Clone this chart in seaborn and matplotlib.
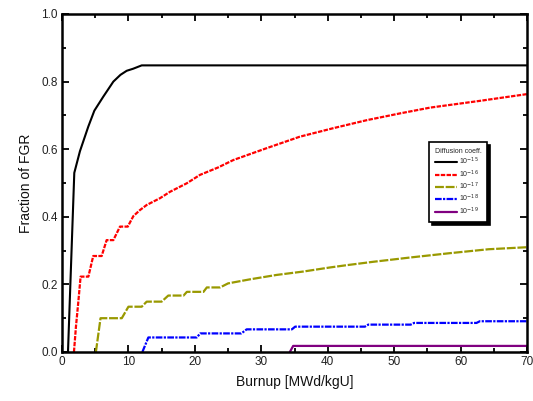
import matplotlib
matplotlib.use("Agg")
import matplotlib.pyplot as plt
import seaborn as sns
import pandas as pd
from matplotlib.ticker import MultipleLocator

# ---- data ----
x_d15 = [0.9, 1.85, 2.7, 3.96, 4.87, 6.2, 7.73, 8.8, 9.74, 10.7, 12.0, 70.0]
y_d15 = [0.0, 0.53, 0.594, 0.667, 0.714, 0.755, 0.80, 0.82, 0.832, 0.838, 0.848, 0.848]

x_d16 = [1.8, 2.1, 2.46, 2.8, 3.97, 4.7, 5.97, 6.72, 7.73, 8.73, 9.9, 10.74, 11.74,
         12.75, 14.75, 16.26, 18.77, 20.77, 23.5, 25.8, 30.8, 35.8, 40.8, 45.9,
         50.9, 55.4, 62.9, 70.0]
y_d16 = [0.0, 0.075, 0.149, 0.223, 0.223, 0.284, 0.284, 0.331, 0.331, 0.371, 0.371,
         0.402, 0.42, 0.435, 0.455, 0.474, 0.499, 0.524, 0.546, 0.568, 0.603, 0.637,
         0.662, 0.686, 0.706, 0.723, 0.743, 0.763]

x_d17 = [5.1, 5.8, 9.0, 10.0, 12.0, 12.75, 15.0, 16.0, 18.3, 18.8, 21.3, 21.8, 23.8,
         25.0, 28.3, 32.3, 36.3, 40.3, 42.9, 46.9, 52.6, 58.2, 64.2, 70.0]
y_d17 = [0.0, 0.10, 0.10, 0.134, 0.134, 0.149, 0.149, 0.167, 0.167, 0.178, 0.178,
         0.191, 0.191, 0.203, 0.215, 0.228, 0.238, 0.25, 0.257, 0.267, 0.28, 0.292,
         0.304, 0.31]

x_d18 = [12.1, 13.0, 20.3, 20.8, 27.0, 27.8, 34.6, 35.1, 45.6, 46.1, 52.5, 53.0,
         62.4, 62.9, 70.0]
y_d18 = [0.0, 0.043, 0.043, 0.055, 0.055, 0.067, 0.067, 0.075, 0.075, 0.081, 0.081,
         0.086, 0.086, 0.091, 0.091]

x_d19 = [34.3, 34.8, 70.0]
y_d19 = [0.0, 0.018, 0.018]

labels = ["10$^{-15}$", "10$^{-16}$", "10$^{-17}$", "10$^{-18}$", "10$^{-19}$"]
colors = ["#000000", "#ff0000", "#999900", "#0000ff", "#800080"]
x_ticks = [0, 10, 20, 30, 40, 50, 60, 70]
y_ticks = [0.0, 0.2, 0.4, 0.6, 0.8, 1.0]

sns.set_theme(style="ticks")
plt.rcParams["font.family"] = ["Liberation Sans", "DejaVu Sans"]

fig = plt.figure(figsize=(5.33, 4.01), dpi=100)
ax = fig.add_axes([62 / 533, 49 / 401, 465 / 533, 338 / 401])

series = [(x_d15, y_d15), (x_d16, y_d16), (x_d17, y_d17), (x_d18, y_d18), (x_d19, y_d19)]
dashes = [None, (2, 0.6), (4, 0.8), (3, 0.6, 1, 0.6), None]
widths = [1.5, 1.6, 1.6, 1.6, 1.6]

for (xs, ys), lab, col, ds, lw in zip(series, labels, colors, dashes, widths):
    df = pd.DataFrame({"burnup": xs, "fgr": ys})
    sns.lineplot(data=df, x="burnup", y="fgr", ax=ax, color=col, lw=lw,
                 sort=False, estimator=None, label=lab)
    if ds is not None:
        ax.lines[-1].set_dashes(ds)

ax.set_xlim(0, 70)
ax.set_ylim(0, 1.0)
ax.set_xticks(x_ticks)
ax.set_yticks(y_ticks)
ax.set_yticklabels([f"{v:.1f}" for v in y_ticks])
ax.xaxis.set_minor_locator(MultipleLocator(5))
ax.yaxis.set_minor_locator(MultipleLocator(0.1))
ax.tick_params(which="both", direction="in", top=True, right=True, width=1.3,
               labelsize=8.5, color="black", labelcolor="#222222", pad=3)
ax.tick_params(which="major", length=5)
ax.tick_params(which="minor", length=3)
for sp in ax.spines.values():
    sp.set_linewidth(1.8)
    sp.set_color("black")
    sp.set_visible(True)

ax.set_xlabel("Burnup [MWd/kgU]", fontsize=10, labelpad=5, color="#111111")
ax.set_ylabel("Fraction of FGR", fontsize=10, labelpad=6, color="#111111")

leg = ax.legend(title="Diffusion coeff.", loc="upper left",
                bbox_to_anchor=(0.79, 0.62), fontsize=5, title_fontsize=5,
                frameon=True, fancybox=False, edgecolor="black",
                shadow={"color": "black", "alpha": 1.0},
                handlelength=3.2, handletextpad=0.2, labelspacing=0.15,
                borderpad=0.8, borderaxespad=0)
leg.get_frame().set_linewidth(1.2)
leg._legend_box.align = "left"

fig.savefig("out.png", dpi=100)
